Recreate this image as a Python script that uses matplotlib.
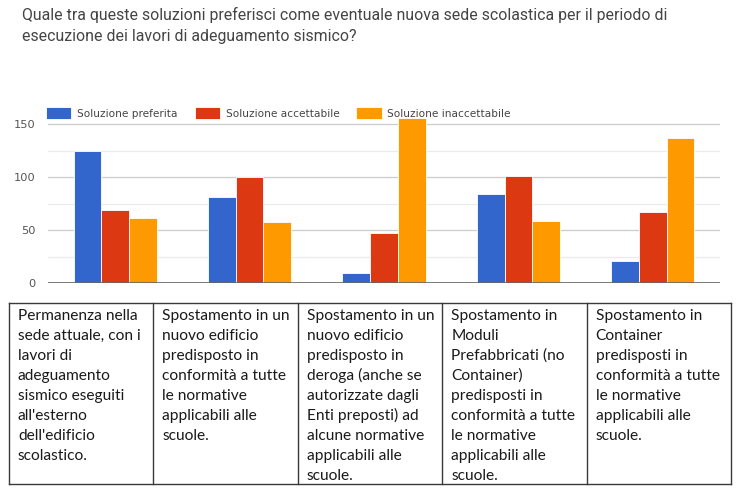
import matplotlib
matplotlib.use("Agg")
import matplotlib.pyplot as plt
import numpy as np

# data
series = ["Soluzione preferita", "Soluzione accettabile", "Soluzione inaccettabile"]
colors = ["#3366cc", "#dc3912", "#ff9900"]
preferita = [125, 81, 10, 84, 21]
accettabile = [69, 100, 47, 101, 67]
inaccettabile = [62, 58, 156, 59, 137]
yticks = [0, 50, 100, 150]

title_lines = [
    "Quale tra queste soluzioni preferisci come eventuale nuova sede scolastica per il periodo di",
    "esecuzione dei lavori di adeguamento sismico?",
]

cells = [
    ["Permanenza nella", "sede attuale, con i", "lavori di", "adeguamento",
     "sismico eseguiti", "all'esterno", "dell'edificio", "scolastico."],
    ["Spostamento in un", "nuovo edificio", "predisposto in",
     "conformità a tutte", "le normative", "applicabili alle", "scuole."],
    ["Spostamento in un", "nuovo edificio", "predisposto in",
     "deroga (anche se", "autorizzate dagli", "Enti preposti) ad",
     "alcune normative", "applicabili alle", "scuole."],
    ["Spostamento in", "Moduli", "Prefabbricati (no", "Container)",
     "predisposti in", "conformità a tutte", "le normative",
     "applicabili alle", "scuole."],
    ["Spostamento in", "Container", "predisposti in", "conformità a tutte",
     "le normative", "applicabili alle", "scuole."],
]

W, H = 740, 499
fig = plt.figure(figsize=(W / 100, H / 100), dpi=100)

# title
for i, line in enumerate(title_lines):
    fig.text(22 / W, 1 - (15 + 22 * i) / H, line, fontsize=11.4, family="Roboto",
             color="#444444", va="center", ha="left")

# bar chart
ax = fig.add_axes([48 / W, 1 - 283.3 / H, (720 - 48) / W, (283.3 - 118) / H])
x = np.arange(len(preferita))
bw = 0.206
for k, (vals, c, lab) in enumerate(zip([preferita, accettabile, inaccettabile], colors, series)):
    ax.bar(x + (k - 1) * bw, vals, bw, color=c, label=lab, edgecolor="white",
           linewidth=0.6, zorder=3)

ax.set_xlim(-0.5, len(preferita) - 0.5)
ax.set_ylim(0, 156)
ax.set_yticks(yticks)
ax.set_yticks([25, 75, 125], minor=True)
ax.set_xticks([])
ax.grid(axis="y", which="major", color="#cccccc", linewidth=0.9, zorder=0)
ax.grid(axis="y", which="minor", color="#ebebeb", linewidth=0.9, zorder=0)
ax.axhline(0, color="#666666", linewidth=1.2, zorder=4)
for s in ax.spines.values():
    s.set_visible(False)
ax.tick_params(axis="y", which="both", length=0, pad=9, labelsize=8.2,
               labelcolor="#555555")
ax.set_facecolor("none")

leg = ax.legend(loc="lower left", bbox_to_anchor=(-0.003, 0.995), ncol=3,
                frameon=False, fontsize=7.6, handlelength=2.4, handleheight=1.3,
                handletextpad=0.55, columnspacing=1.6, borderaxespad=0,
                borderpad=0)
for t in leg.get_texts():
    t.set_color("#444444")

# table below the chart
tab = fig.add_axes([9 / W, 1 - 484 / H, (731 - 9) / W, (484 - 302.7) / H])
tab.set_xlim(0, 731 - 9)
tab.set_ylim(484 - 302.7, 0)
tab.axis("off")
ncol = len(cells)
colw = (731 - 9) / ncol
for j in range(ncol + 1):
    tab.plot([j * colw, j * colw], [0, 484 - 302.7], color="#3a3a3a", lw=1.0,
             clip_on=False)
tab.plot([0, 731 - 9], [0, 0], color="#3a3a3a", lw=1.0, clip_on=False)
tab.plot([0, 731 - 9], [484 - 302.7, 484 - 302.7], color="#3a3a3a", lw=1.0,
         clip_on=False)
for j, lines in enumerate(cells):
    for i, line in enumerate(lines):
        tab.text(j * colw + 9, 13 + 20 * i, line, family="Lato", fontsize=11.2,
                 color="#1a1a1a", va="center", ha="left")

fig.savefig("out.png", dpi=100)
